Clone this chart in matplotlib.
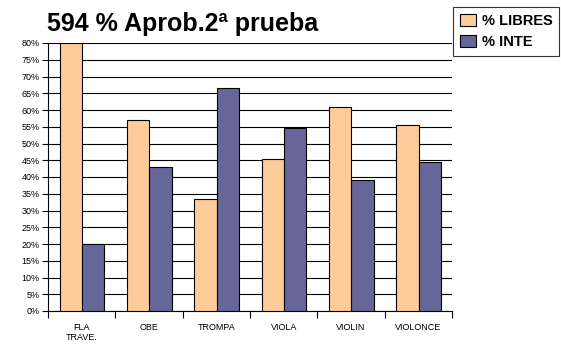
import numpy as np
import matplotlib.pyplot as plt
from matplotlib.ticker import FuncFormatter

plt.rcParams['font.family'] = ['Liberation Sans', 'DejaVu Sans']

categorias = ['FLA\nTRAVE.', 'OBE', 'TROMPA', 'VIOLA', 'VIOLIN', 'VIOLONCE']
libres = [80, 57, 33.3, 45.5, 61, 55.5]
inte = [20, 43, 66.7, 54.5, 39, 44.5]

fig = plt.figure(figsize=(5.61, 3.49), dpi=100)
ax = fig.add_axes([48/561, 1 - 311/349, (452-48)/561, (311-43)/349])

x = np.arange(len(categorias))
w = 0.33
ax.bar(x - w/2 + 0.005, libres, w, color='#FFCC99', edgecolor='black', linewidth=0.8,
       label='% LIBRES', zorder=3)
ax.bar(x + w/2 + 0.005, inte, w, color='#666699', edgecolor='black', linewidth=0.8,
       label='% INTE', zorder=3)

ax.set_xlim(-0.5, len(categorias) - 0.5)
ax.set_ylim(0, 80)
ax.set_yticks(np.arange(0, 81, 5))
ax.yaxis.set_major_formatter(FuncFormatter(lambda v, p: f'{int(v)}%'))
ax.yaxis.grid(True, color='black', linewidth=0.8, zorder=0)

# category labels in the middle, tick marks on the group boundaries
ax.set_xticks(np.arange(len(categorias) + 1) - 0.5)
ax.set_xticklabels([])
ax.set_xticks(x, minor=True)
ax.set_xticklabels(categorias, minor=True, fontsize=6.5, va='top', linespacing=1.0)
ax.tick_params(axis='x', which='minor', length=0, pad=9)
ax.tick_params(axis='x', which='major', length=5, direction='out', width=0.8)
ax.tick_params(axis='y', length=4, direction='out', width=0.8, labelsize=6.5, pad=2)

for s in ['top', 'right']:
    ax.spines[s].set_visible(False)
ax.spines['left'].set_linewidth(0.8)
ax.spines['bottom'].set_linewidth(0.8)

fig.text(47/561, 1 - 31/349, '594 % Aprob.2ª prueba', fontsize=18, fontweight='bold')

leg = fig.legend(loc='upper left', bbox_to_anchor=(453/561, 1 - 7/349),
                 prop={'weight': 'bold', 'size': 10.5}, frameon=True, fancybox=False,
                 borderpad=0.45, handlelength=1.1, handleheight=0.9,
                 handletextpad=0.45, labelspacing=0.5, borderaxespad=0)
leg.get_frame().set_edgecolor('black')
leg.get_frame().set_linewidth(0.8)

fig.savefig('out.png', dpi=100)
